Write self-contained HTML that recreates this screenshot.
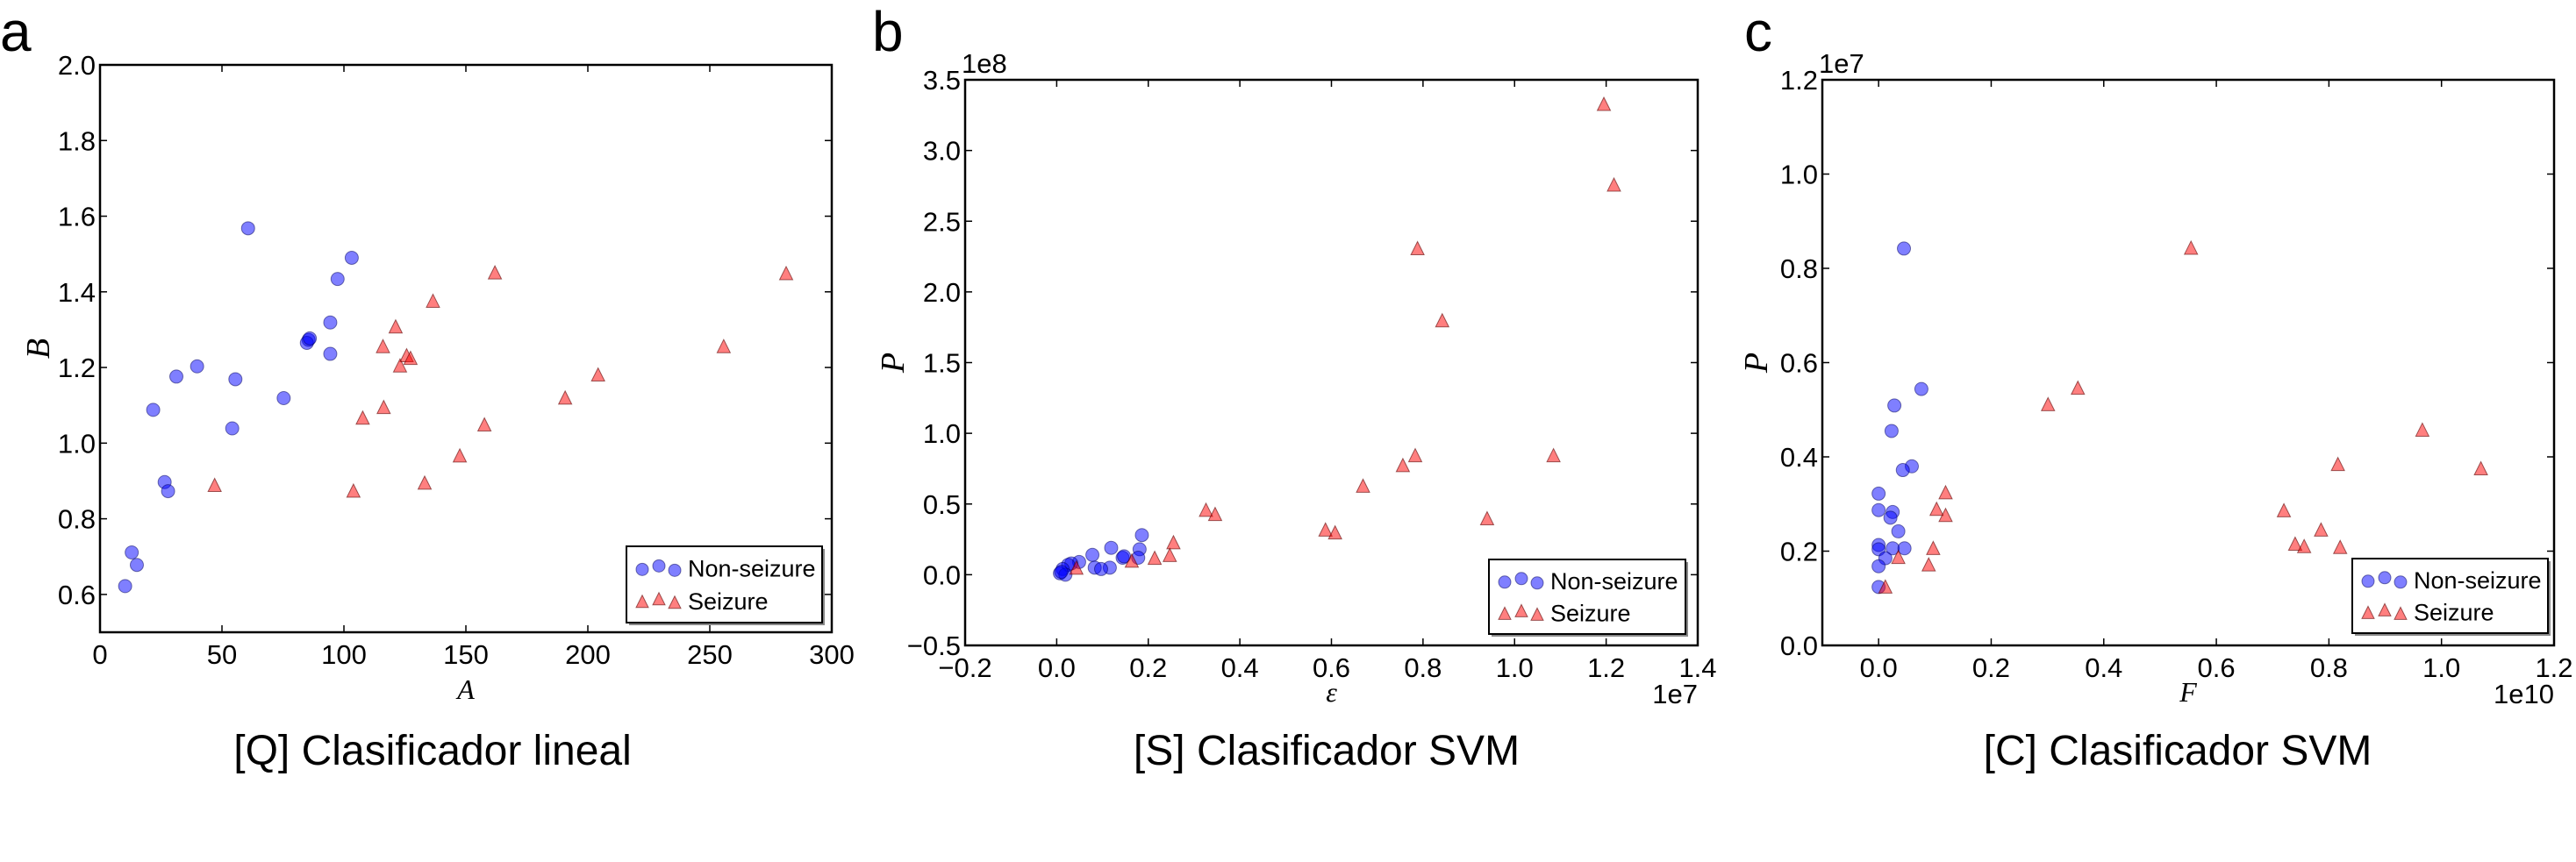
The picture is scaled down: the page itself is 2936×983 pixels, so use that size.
<!DOCTYPE html>
<html><head><meta charset="utf-8"><style>
html,body{margin:0;padding:0;background:#fff;}
svg text{font-family:"Liberation Sans",sans-serif;fill:#000;}
.tick{font-size:31px;}
.lab{font-family:"Liberation Serif",serif !important;font-style:italic;font-size:32px;}
.ylab{font-family:"Liberation Serif",serif !important;font-style:italic;font-size:38px;}
.leg{font-size:27px;}
.title{font-size:48px;}
.letter{font-size:64px;}
</style></head><body>
<svg id="fig" width="2936" height="978" viewBox="0 0 2936 978" xmlns="http://www.w3.org/2000/svg"></svg>
<script>
// ---- Panel a data ----
const aNonX=[60.7,103.2,97.4,94.4,94.4,85.5,84.8,86,39.8,31.3,55.5,75.3,21.8,54.2,26.5,27.9,13.0,15.1,10.3];
const aNonY=[1.568,1.490,1.434,1.319,1.236,1.273,1.265,1.277,1.203,1.176,1.169,1.119,1.088,1.039,0.897,0.873,0.711,0.678,0.622];
const aSezX=[161.9,281.3,136.5,121.2,116.0,255.7,125.7,127.3,123.0,204.2,190.7,116.3,107.7,157.6,147.5,47.0,133.1,103.9];
const aSezY=[1.448,1.446,1.373,1.305,1.253,1.253,1.229,1.222,1.202,1.178,1.117,1.092,1.064,1.046,0.964,0.886,0.892,0.871];
const aXTicks=[0,50,100,150,200,250,300];
const aXLabels=["0","50","100","150","200","250","300"];
const aYTicks=[0.5,0.6,0.8,1.0,1.2,1.4,1.6,1.8,2.0];
const aYLabels=["","0.6","0.8","1.0","1.2","1.4","1.6","1.8","2.0"];
// ---- Panel b data (x in 1e7, y in 1e8) ----
const bNonX=[0.186,0.181,0.178,0.119,0.144,0.147,0.078,0.116,0.083,0.097,0.049,0.032,0.025,0.013,0.007,0.019,0.010];
const bNonY=[0.28,0.18,0.12,0.19,0.12,0.13,0.14,0.05,0.05,0.04,0.09,0.08,0.07,0.04,0.01,0.0,0.02];
const bSezX=[1.195,1.217,0.788,0.842,0.783,0.756,1.085,0.669,0.326,0.346,0.94,0.587,0.608,0.255,0.214,0.247,0.164,0.043];
const bSezY=[3.32,2.75,2.30,1.79,0.836,0.766,0.836,0.62,0.45,0.42,0.39,0.31,0.29,0.22,0.11,0.13,0.09,0.04];
const bXTicks=[-0.2,0,0.2,0.4,0.6,0.8,1.0,1.2,1.4];
const bXLabels=["\u22120.2","0.0","0.2","0.4","0.6","0.8","1.0","1.2","1.4"];
const bYTicks=[-0.5,0,0.5,1.0,1.5,2.0,2.5,3.0,3.5];
const bYLabels=["\u22120.5","0.0","0.5","1.0","1.5","2.0","2.5","3.0","3.5"];
// ---- Panel c data (x in 1e10, y in 1e7) ----
const cNonX=[0.045,0.076,0.028,0.023,0.059,0.043,0.0,0.0,0.025,0.021,0.035,0.0,0.0,0.025,0.046,0.012,0.0,0.0];
const cNonY=[0.842,0.544,0.509,0.455,0.380,0.372,0.322,0.287,0.283,0.271,0.242,0.213,0.204,0.206,0.206,0.185,0.168,0.124];
const cSezX=[0.555,0.354,0.301,0.966,0.816,1.07,0.119,0.103,0.119,0.72,0.786,0.74,0.756,0.820,0.097,0.035,0.089,0.012];
const cSezY=[0.841,0.544,0.509,0.455,0.382,0.373,0.322,0.287,0.274,0.284,0.243,0.213,0.208,0.206,0.204,0.185,0.169,0.122];
const cXTicks=[-0.1,0,0.2,0.4,0.6,0.8,1.0,1.2];
const cXLabels=["","0.0","0.2","0.4","0.6","0.8","1.0","1.2"];
const cYTicks=[0,0.2,0.4,0.6,0.8,1.0,1.2];
const cYLabels=["0.0","0.2","0.4","0.6","0.8","1.0","1.2"];

const NS="http://www.w3.org/2000/svg";
const svg=document.getElementById('fig');
function mk(tag,attrs,parent){const e=document.createElementNS(NS,tag);for(const k in attrs)e.setAttribute(k,attrs[k]);(parent||svg).appendChild(e);return e;}
function txt(s,attrs,parent){const e=mk('text',attrs,parent);e.textContent=s;return e;}

function panel(cfg){
  const g=mk('g',{});
  
  
  const {L,R,T,B,x0,x1,y0,y1}=cfg;
  const sx=v=>L+(v-x0)/(x1-x0)*(R-L);
  const sy=v=>B-(v-y0)/(y1-y0)*(B-T);
  cfg.xt.forEach((v,i)=>{
    const x=sx(v);
    const t1=mk('line',{x1:x,y1:B,x2:x,y2:B-8,stroke:'#000','stroke-width':1.5},g);
    
    
    mk('line',{x1:x,y1:T,x2:x,y2:T+8,stroke:'#000','stroke-width':1.5},g);
    if(cfg.xl[i]){const t=txt(cfg.xl[i],{x:x,y:B+36,'text-anchor':'middle',class:'tick'},g);
      
      }
  });
  cfg.yt.forEach((v,i)=>{
    const y=sy(v);
    const t1=mk('line',{x1:L,y1:y,x2:L+8,y2:y,stroke:'#000','stroke-width':1.5},g);
    
    
    mk('line',{x1:R,y1:y,x2:R-8,y2:y,stroke:'#000','stroke-width':1.5},g);
    if(cfg.yl[i]){const t=txt(cfg.yl[i],{x:L-5,y:y+11,'text-anchor':'end',class:'tick'},g);
      
      }
  });
  cfg.nx.forEach((v,i)=>{
    const c=mk('circle',{cx:sx(v),cy:sy(cfg.ny[i]),r:7.5,fill:'rgba(0,0,255,0.5)',stroke:'rgba(0,0,90,0.5)','stroke-width':1},g);
    
    
  });
  cfg.sxv.forEach((v,i)=>{
    const x=sx(v),y=sy(cfg.sy[i]);
    const p=mk('polygon',{points:`${x},${y-9} ${x+7.5},${y+6} ${x-7.5},${y+6}`,fill:'rgba(255,0,0,0.5)',stroke:'rgba(90,0,0,0.6)','stroke-width':1},g);
    
    
  });
  const fr=mk('rect',{x:L,y:T,width:R-L,height:B-T,fill:'none',stroke:'#000','stroke-width':2.5},g);
  
  
  const lg=mk('g',{},g);
  
  
  const [lx,ly,lw,lh]=cfg.leg;
  mk('rect',{x:lx+3,y:ly+3,width:lw,height:lh,fill:'#888'},lg);
  mk('rect',{x:lx,y:ly,width:lw,height:lh,fill:'#fff',stroke:'#000','stroke-width':2},lg);
  const r1=ly+lh*0.28,r2=ly+lh*0.71;
  [[lx+18,r1+2],[lx+37,r1-2],[lx+55,r1+3]].forEach(p=>mk('circle',{cx:p[0],cy:p[1],r:7,fill:'rgba(0,0,255,0.5)',stroke:'rgba(0,0,90,0.5)'},lg));
  [[lx+18,r2+2],[lx+37,r2-1],[lx+55,r2+3]].forEach(p=>{const x=p[0],y=p[1];mk('polygon',{points:`${x},${y-8} ${x+7},${y+6} ${x-7},${y+6}`,fill:'rgba(255,0,0,0.5)',stroke:'rgba(90,0,0,0.6)'},lg);});
  const e1=txt('Non-seizure',{x:lx+70,y:r1+10,class:'leg'},lg);
  
  
  const e2=txt('Seizure',{x:lx+70,y:r2+10,class:'leg'},lg);
  
  
  const xl=txt(cfg.xlab,{x:(L+R)/2,y:cfg.xlabY,'text-anchor':'middle',class:'lab'},g);
  
  
  const yl=txt(cfg.ylab,{x:0,y:0,'text-anchor':'middle',class:'ylab',transform:`translate(${cfg.ylabX},${(T+B)/2}) rotate(-90)`},g);
  
  
  const ti=txt(cfg.title,{x:cfg.titleX,y:872,'text-anchor':'middle',class:'title'},g);
  
  
  const le=txt(cfg.letter,{x:cfg.letterX,y:58,class:'letter'},g);
  
  
  if(cfg.yoff){const o=txt(cfg.yoff,{x:L-4,y:T-8,class:'tick'},g);
    
    }
  if(cfg.xoff){const o=txt(cfg.xoff,{x:R,y:802,'text-anchor':'end',class:'tick'},g);
    
    }
}

panel({name:'panel-a',L:114,R:948,T:74,B:721,x0:0,x1:300,y0:0.5,y1:2.0,
  xt:aXTicks,xl:aXLabels,yt:aYTicks,yl:aYLabels,nx:aNonX,ny:aNonY,sxv:aSezX,sy:aSezY,
  leg:[714,623,223,87],xlab:'A',xlabY:797,ylab:'B',ylabX:56,title:'[Q] Clasificador lineal',titleX:493,letter:'a',letterX:0});
panel({name:'panel-b',L:1100,R:1935,T:91,B:736,x0:-0.2,x1:1.4,y0:-0.5,y1:3.5,
  xt:bXTicks,xl:bXLabels,yt:bYTicks,yl:bYLabels,nx:bNonX,ny:bNonY,sxv:bSezX,sy:bSezY,
  leg:[1697,638,224,85],xlab:'\u03b5',xlabY:800,ylab:'P',ylabX:1030,title:'[S] Clasificador SVM',titleX:1512,letter:'b',letterX:994,yoff:'1e8',xoff:'1e7'});
panel({name:'panel-c',L:2077,R:2911,T:91,B:736,x0:-0.1,x1:1.2,y0:0,y1:1.2,
  xt:cXTicks,xl:cXLabels,yt:cYTicks,yl:cYLabels,nx:cNonX,ny:cNonY,sxv:cSezX,sy:cSezY,
  leg:[2681,637,223,85],xlab:'F',xlabY:800,ylab:'P',ylabX:2014,title:'[C] Clasificador SVM',titleX:2482,letter:'c',letterX:1988,yoff:'1e7',xoff:'1e10'});
</script>
</body></html>
